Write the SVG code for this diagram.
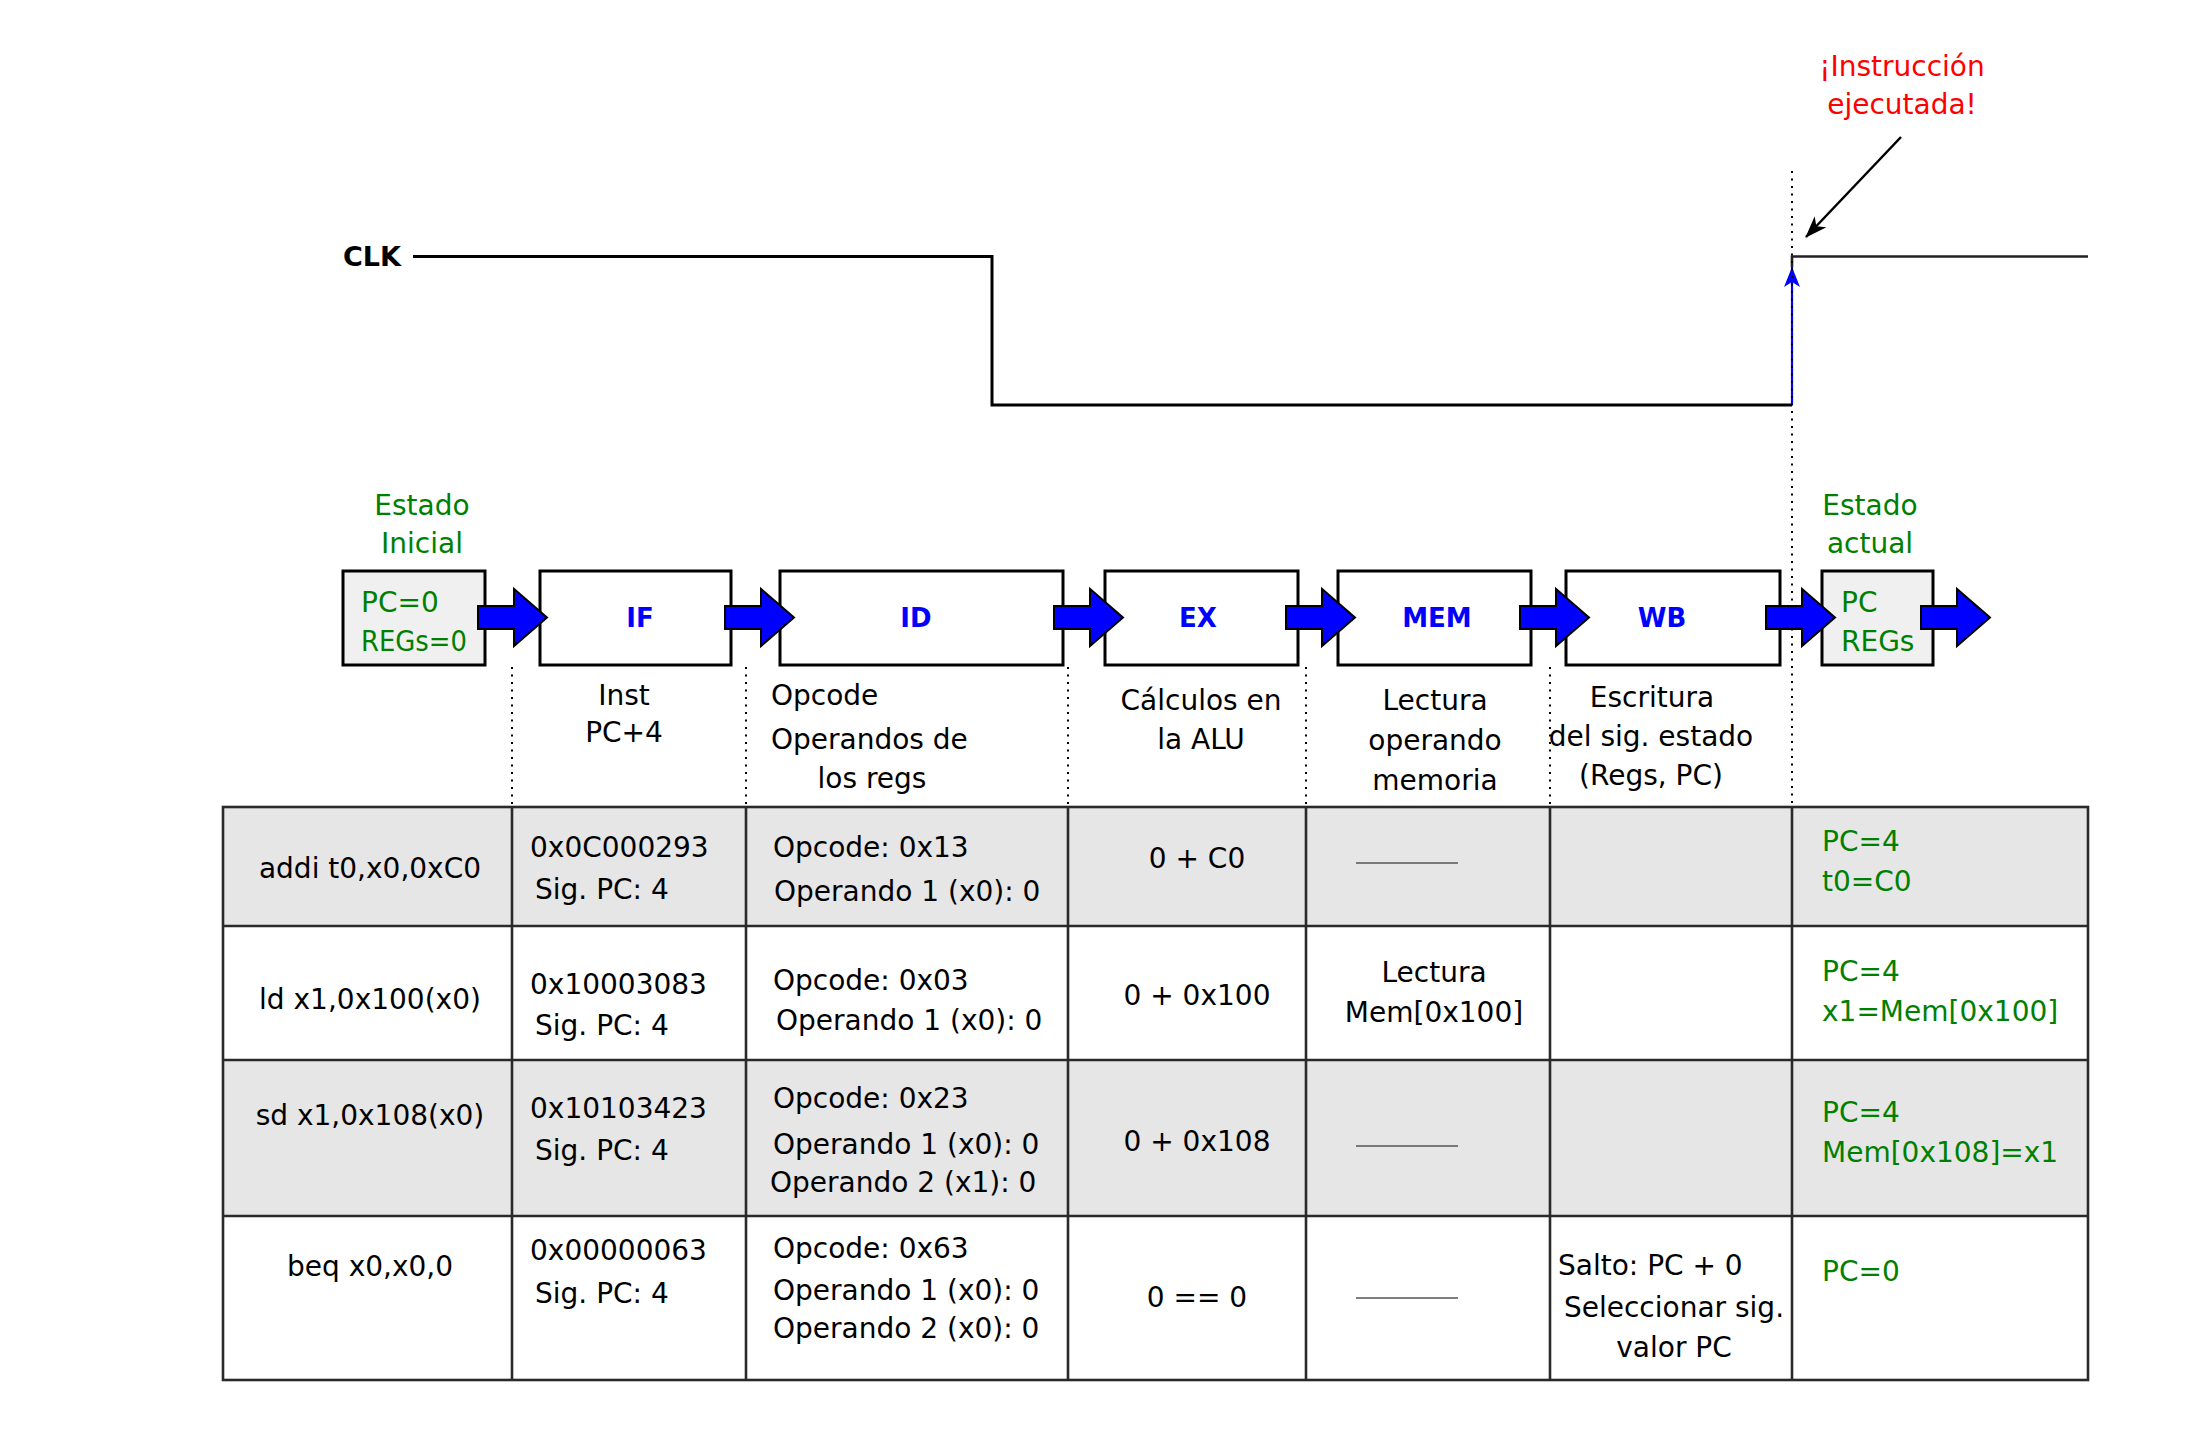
<svg xmlns="http://www.w3.org/2000/svg" xmlns:xlink="http://www.w3.org/1999/xlink" width="2187" height="1449" viewBox="0 0 2187 1449">
<style>
text{font-family:"DejaVu Sans","Liberation Sans",sans-serif;font-size:28px;fill:#000}
.c{text-anchor:middle}
.g{fill:#008000}
.r{fill:#ff0000}
.st{fill:#0000ff;font-weight:bold;font-size:26px;text-anchor:middle}
.box{fill:#fff;stroke:#000;stroke-width:3}
.sbox{fill:#f0f0f0;stroke:#000;stroke-width:3}
.dot{stroke:#000;stroke-width:2;stroke-dasharray:2 5.5;fill:none}
.wave{stroke:#000;stroke-width:3;fill:none}
.tl{stroke:#2a2a2a;stroke-width:2.6;fill:none}
.dash{stroke:#555;stroke-width:1.3}
.barrow{fill:#0000ff;stroke:#000;stroke-width:2}
</style>
<defs>
<path id="ba" class="barrow" d="M0,-11.5 H36 V-28.5 L69,0 L36,28.5 V11.5 H0 Z"/>
<marker id="mk" viewBox="0 0 22 16" refX="21" refY="8" markerWidth="22" markerHeight="16" orient="auto" markerUnits="userSpaceOnUse">
<path d="M0,0 L22,8 L0,16 L6,8 Z" fill="#000"/>
</marker>
<marker id="mkb" viewBox="0 0 20 16" refX="20" refY="8" markerWidth="20" markerHeight="16" orient="auto" markerUnits="userSpaceOnUse">
<path d="M0,0 L20,8 L0,16 L5,8 Z" fill="#0000ff"/>
</marker>
</defs>
<rect width="2187" height="1449" fill="#fff"/>

<!-- Clock waveform -->
<g id="clock">
<text x="401" y="266" style="font-weight:bold;font-size:27px;text-anchor:end">CLK</text>
<polyline class="wave" points="413,256.5 992,256.5 992,405 1792,405"/>
<polyline points="1792,267 1792,256.5 2088,256.5" fill="none" stroke="#222" stroke-width="2.6"/>
<line x1="1792" y1="405" x2="1792" y2="267" stroke="#0000ff" stroke-width="2.2" marker-end="url(#mkb)"/>
</g>

<!-- annotation -->
<g id="note">
<text class="c r" x="1902" y="76">¡Instrucción</text>
<text class="c r" x="1902" y="114">ejecutada!</text>
<line x1="1901" y1="137" x2="1806" y2="237" stroke="#000" stroke-width="2.5" marker-end="url(#mk)"/>
</g>

<!-- dotted guides -->
<g id="guides">
<line class="dot" x1="1792" y1="171" x2="1792" y2="806"/>
<line class="dot" x1="512" y1="667" x2="512" y2="806"/>
<line class="dot" x1="746" y1="667" x2="746" y2="806"/>
<line class="dot" x1="1068" y1="667" x2="1068" y2="806"/>
<line class="dot" x1="1306" y1="667" x2="1306" y2="806"/>
<line class="dot" x1="1550" y1="667" x2="1550" y2="806"/>
</g>

<!-- pipeline nodes -->
<g id="estado-inicial">
<text class="c g" x="422" y="515">Estado</text>
<text class="c g" x="422" y="553">Inicial</text>
<rect class="sbox" x="343" y="571" width="142" height="94"/>
<text class="g" x="361" y="612">PC=0</text>
<text class="g" x="361" y="651" textLength="106" lengthAdjust="spacingAndGlyphs">REGs=0</text>
</g>
<g id="if">
<rect class="box" x="540" y="571" width="191" height="94"/>
<text class="st" x="640" y="627">IF</text>
<text class="c" x="624" y="705">Inst</text>
<text class="c" x="624" y="742">PC+4</text>
</g>
<g id="id">
<rect class="box" x="780" y="571" width="283" height="94"/>
<text class="st" x="916" y="627">ID</text>
<text x="771" y="705">Opcode</text>
<text x="771" y="749">Operandos de</text>
<text class="c" x="872" y="788">los regs</text>
</g>
<g id="ex">
<rect class="box" x="1105" y="571" width="193" height="94"/>
<text class="st" x="1198" y="627">EX</text>
<text class="c" x="1201" y="710">Cálculos en</text>
<text class="c" x="1201" y="749">la ALU</text>
</g>
<g id="mem">
<rect class="box" x="1338" y="571" width="193" height="94"/>
<text class="st" x="1437" y="627">MEM</text>
<text class="c" x="1435" y="710">Lectura</text>
<text class="c" x="1435" y="750">operando</text>
<text class="c" x="1435" y="790">memoria</text>
</g>
<g id="wb">
<rect class="box" x="1566" y="571" width="214" height="94"/>
<text class="st" x="1662" y="627">WB</text>
<text class="c" x="1652" y="707">Escritura</text>
<text class="c" x="1651" y="746">del sig. estado</text>
<text class="c" x="1651" y="785">(Regs, PC)</text>
</g>
<g id="estado-actual">
<text class="c g" x="1870" y="515">Estado</text>
<text class="c g" x="1870" y="553">actual</text>
<rect class="sbox" x="1822" y="571" width="111" height="94"/>
<text class="g" x="1841" y="612">PC</text>
<text class="g" x="1841" y="651">REGs</text>
</g>

<!-- connectors -->
<g id="connectors">
<use href="#ba" x="478" y="617.5"/>
<use href="#ba" x="725" y="617.5"/>
<use href="#ba" x="1054" y="617.5"/>
<use href="#ba" x="1286" y="617.5"/>
<use href="#ba" x="1520" y="617.5"/>
<use href="#ba" x="1766" y="617.5"/>
<use href="#ba" x="1921" y="617.5"/>
</g>

<!-- table -->
<g id="table">
<rect x="223" y="807" width="1865" height="119" fill="#e6e6e6"/>
<rect x="223" y="1060" width="1865" height="156" fill="#e6e6e6"/>
<rect class="tl" x="223" y="807" width="1865" height="573"/>
<line class="tl" x1="223" y1="926" x2="2088" y2="926"/>
<line class="tl" x1="223" y1="1060" x2="2088" y2="1060"/>
<line class="tl" x1="223" y1="1216" x2="2088" y2="1216"/>
<line class="tl" x1="512" y1="807" x2="512" y2="1380"/>
<line class="tl" x1="746" y1="807" x2="746" y2="1380"/>
<line class="tl" x1="1068" y1="807" x2="1068" y2="1380"/>
<line class="tl" x1="1306" y1="807" x2="1306" y2="1380"/>
<line class="tl" x1="1550" y1="807" x2="1550" y2="1380"/>
<line class="tl" x1="1792" y1="807" x2="1792" y2="1380"/>
</g>

<g id="row-addi">
<text class="c" x="370" y="878">addi t0,x0,0xC0</text>
<text x="530" y="857">0x0C000293</text>
<text x="535" y="899">Sig. PC: 4</text>
<text x="773" y="857">Opcode: 0x13</text>
<text x="774" y="901">Operando 1 (x0): 0</text>
<text class="c" x="1197" y="868">0 + C0</text>
<line class="dash" x1="1356" y1="863" x2="1458" y2="863"/>
<text class="g" x="1822" y="851">PC=4</text>
<text class="g" x="1822" y="891">t0=C0</text>
</g>
<g id="row-ld">
<text class="c" x="370" y="1009">ld x1,0x100(x0)</text>
<text x="530" y="994">0x10003083</text>
<text x="535" y="1035">Sig. PC: 4</text>
<text x="773" y="990">Opcode: 0x03</text>
<text x="776" y="1030">Operando 1 (x0): 0</text>
<text class="c" x="1197" y="1005">0 + 0x100</text>
<text class="c" x="1434" y="982">Lectura</text>
<text class="c" x="1434" y="1022">Mem[0x100]</text>
<text class="g" x="1822" y="981">PC=4</text>
<text class="g" x="1822" y="1021">x1=Mem[0x100]</text>
</g>
<g id="row-sd">
<text class="c" x="370" y="1125">sd x1,0x108(x0)</text>
<text x="530" y="1118">0x10103423</text>
<text x="535" y="1160">Sig. PC: 4</text>
<text x="773" y="1108">Opcode: 0x23</text>
<text x="773" y="1154">Operando 1 (x0): 0</text>
<text x="770" y="1192">Operando 2 (x1): 0</text>
<text class="c" x="1197" y="1151">0 + 0x108</text>
<line class="dash" x1="1356" y1="1146" x2="1458" y2="1146"/>
<text class="g" x="1822" y="1122">PC=4</text>
<text class="g" x="1822" y="1162">Mem[0x108]=x1</text>
</g>
<g id="row-beq">
<text class="c" x="370" y="1276">beq x0,x0,0</text>
<text x="530" y="1260">0x00000063</text>
<text x="535" y="1303">Sig. PC: 4</text>
<text x="773" y="1258">Opcode: 0x63</text>
<text x="773" y="1300">Operando 1 (x0): 0</text>
<text x="773" y="1338">Operando 2 (x0): 0</text>
<text class="c" x="1197" y="1307">0 == 0</text>
<line class="dash" x1="1356" y1="1298" x2="1458" y2="1298"/>
<text x="1558" y="1275">Salto: PC + 0</text>
<text class="c" x="1674" y="1317">Seleccionar sig.</text>
<text class="c" x="1674" y="1357">valor PC</text>
<text class="g" x="1822" y="1281">PC=0</text>
</g>
</svg>
